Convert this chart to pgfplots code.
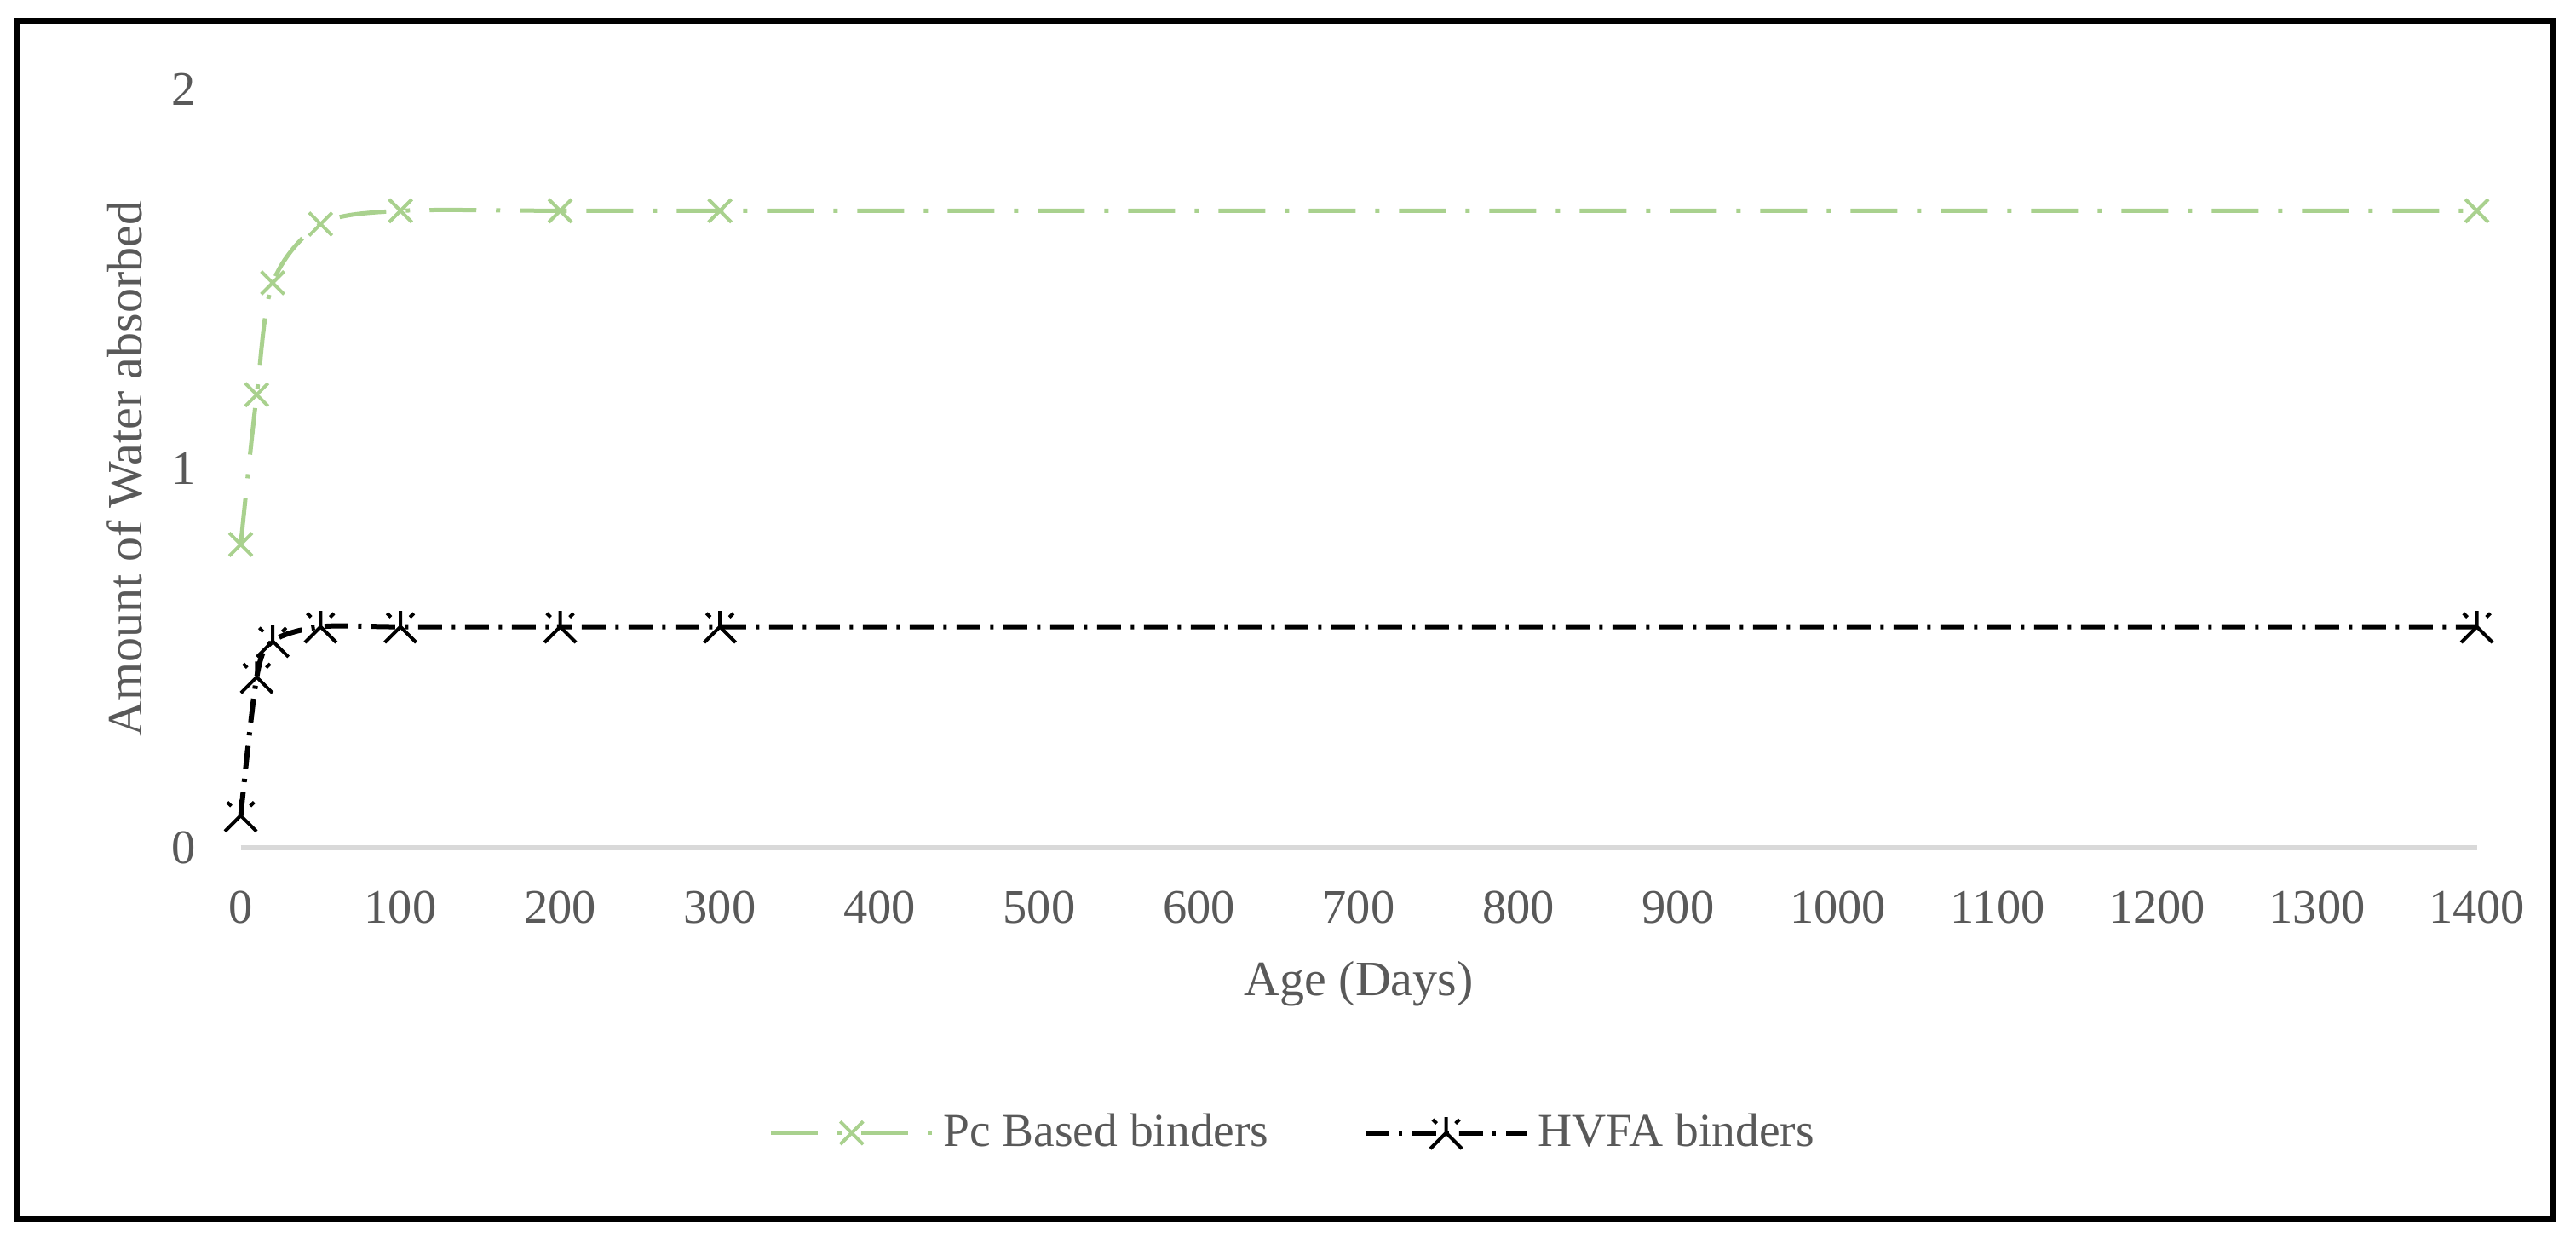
\documentclass[border=0pt]{standalone}
\usepackage{fontspec}
\setmainfont{Liberation Serif}
\usepackage{pgfplots}
\pgfplotsset{compat=1.18}
\definecolor{pcgreen}{HTML}{A9D18E}
\definecolor{txtgray}{HTML}{595959}
\definecolor{axgray}{HTML}{D9D9D9}
\pgfdeclareplotmark{excelstar}{%
  \pgfpathmoveto{\pgfqpoint{-\pgfplotmarksize}{-\pgfplotmarksize}}%
  \pgfpathlineto{\pgfqpoint{0pt}{0pt}}%
  \pgfpathlineto{\pgfqpoint{\pgfplotmarksize}{-\pgfplotmarksize}}%
  \pgfpathmoveto{\pgfqpoint{0pt}{0pt}}%
  \pgfpathlineto{\pgfqpoint{0pt}{\pgfplotmarksize}}%
  \pgfpathmoveto{\pgfqpoint{-0.85\pgfplotmarksize}{0.85\pgfplotmarksize}}%
  \pgfpathlineto{\pgfqpoint{-0.6\pgfplotmarksize}{0.6\pgfplotmarksize}}%
  \pgfpathmoveto{\pgfqpoint{0.85\pgfplotmarksize}{0.85\pgfplotmarksize}}%
  \pgfpathlineto{\pgfqpoint{0.6\pgfplotmarksize}{0.6\pgfplotmarksize}}%
  \pgfusepathqstroke}
\begin{document}
\begin{tikzpicture}
\path[use as bounding box] (0,0) rectangle (604.8pt,290.4pt);
\draw[line width=1.4pt] (3.9pt,4.3pt) rectangle (599.3pt,285.5pt);
\begin{axis}[
  at={(56.52pt,91.4pt)}, anchor=south west,
  scale only axis, width=525pt, height=178pt,
  xmin=0, xmax=1400, ymin=0, ymax=2,
  xtick={0,100,...,1400}, ytick={0,1,2},
  axis lines*=left,
  x axis line style={draw=axgray, line width=1.1pt},
  y axis line style={draw=none},
  major tick length=0pt,
  tick style={draw=none},
  clip=false,
  /pgf/number format/assume math mode=true,
  /pgf/number format/1000 sep={},
  ticklabel style={text=txtgray, font=\fontsize{11.3}{13}\selectfont},
  xticklabel style={anchor=center, yshift=-14pt},
  yticklabel style={anchor=center, xshift=-13.3pt},
  xlabel={Age (Days)}, ylabel={Amount of Water absorbed},
  label style={text=txtgray, font=\fontsize{11.6}{13}\selectfont},
  xlabel style={at={(axis description cs:0.5,-0.1798)}, anchor=center},
  ylabel style={at={(axis description cs:-0.0517,0.5)}, anchor=center},
  legend columns=2,
  legend style={at={(0.4718,-0.376)}, anchor=center, draw=none, fill=none,
    font=\fontsize{11.1}{13}\selectfont, text=txtgray,
    /tikz/every even column/.append style={column sep=20pt}},
  legend image code/.code={\draw[mark repeat=2,mark phase=2,#1] plot coordinates {(0pt,0pt) (19pt,0pt) (38pt,0pt)};},
]
\addplot[smooth, tension=0.5, color=pcgreen, line width=1pt,
  dash pattern=on 11pt off 4.6pt on 1pt off 4.6pt,
  mark=x, mark size=3.8pt, mark options={solid, line width=0.8pt}]
  coordinates {(0,0.80) (10,1.195) (20,1.49) (50,1.645) (100,1.68) (200,1.68) (300,1.68) (1400,1.68)};
\addlegendentry{Pc Based binders}
\addplot[smooth, tension=0.5, color=black, line width=1.2pt,
  dash pattern=on 5.6pt off 2.3pt on 0.8pt off 2.3pt,
  mark=excelstar, mark size=3.7pt, mark options={solid, line width=0.8pt}]
  coordinates {(0,0.085) (10,0.45) (20,0.545) (50,0.583) (100,0.583) (200,0.583) (300,0.583) (1400,0.583)};
\addlegendentry{HVFA binders}
\end{axis}
\end{tikzpicture}
\end{document}
